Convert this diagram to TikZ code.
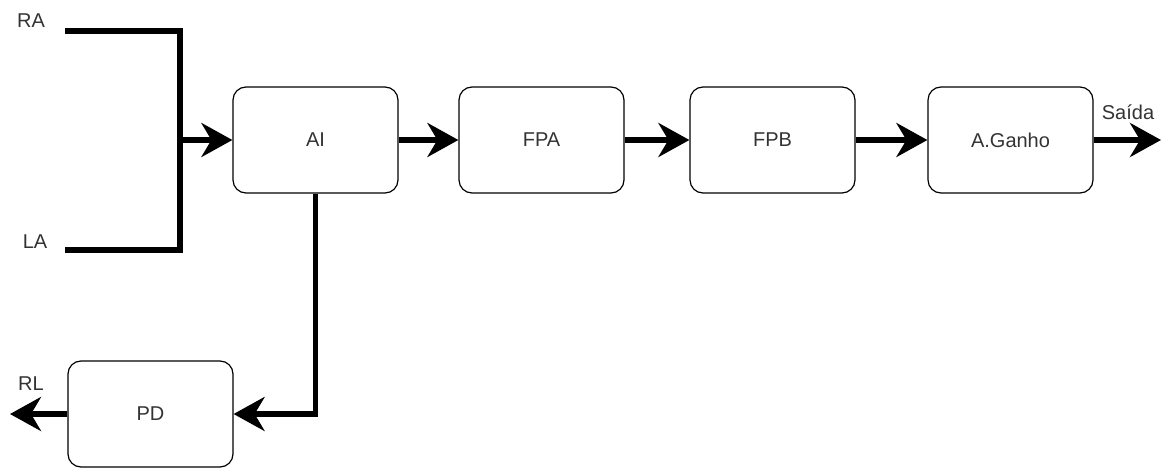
\documentclass[tikz,border=0pt]{standalone}
\usepackage{fontspec}
\setmainfont{Liberation Sans}
\usetikzlibrary{arrows.meta}
\begin{document}
\begin{tikzpicture}[x=1pt,y=-1pt,font=\fontsize{20}{24}\selectfont,
blk/.style={draw,rounded corners=13pt,minimum width=165pt,minimum height=106pt,line width=1.2pt,text=black!80},
wire/.style={line width=5.5pt},
con/.style={wire,-{Stealth[length=31pt,width=34pt,inset=10pt]}},
lbl/.style={text=black!80,inner sep=0pt}]
\useasboundingbox(0,0)rectangle(1161,468);
\node[blk](ai)at(315.5,140){AI};\node[blk](fpa)at(541.5,140){FPA};\node[blk](fpb)at(772.5,140){FPB};\node[blk](gan)at(1010.5,140){A.Ganho};
\node[blk](pd)at(150.5,414){PD};
\coordinate(ra)at(65,31);\coordinate(la)at(65,250);\coordinate(j)at(180,140);\coordinate(rl)at(10,414);\coordinate(out)at(1161,140);
\node[lbl](tra)at(31,21){RA};\node[lbl](tla)at(35,242){LA};\node[lbl](trl)at(31,384){RL};\node[lbl](tout)at(1128,112){Saída};
\draw[wire](ra)-|(j) (la)-|(j);
\draw[con](j)--(ai);
\foreach\a/\b in{ai/fpa,fpa/fpb,fpb/gan,gan/out,pd/rl}{\draw[con](\a)--(\b);}
\draw[con](ai.south)|-(pd);
\end{tikzpicture}
\end{document}
